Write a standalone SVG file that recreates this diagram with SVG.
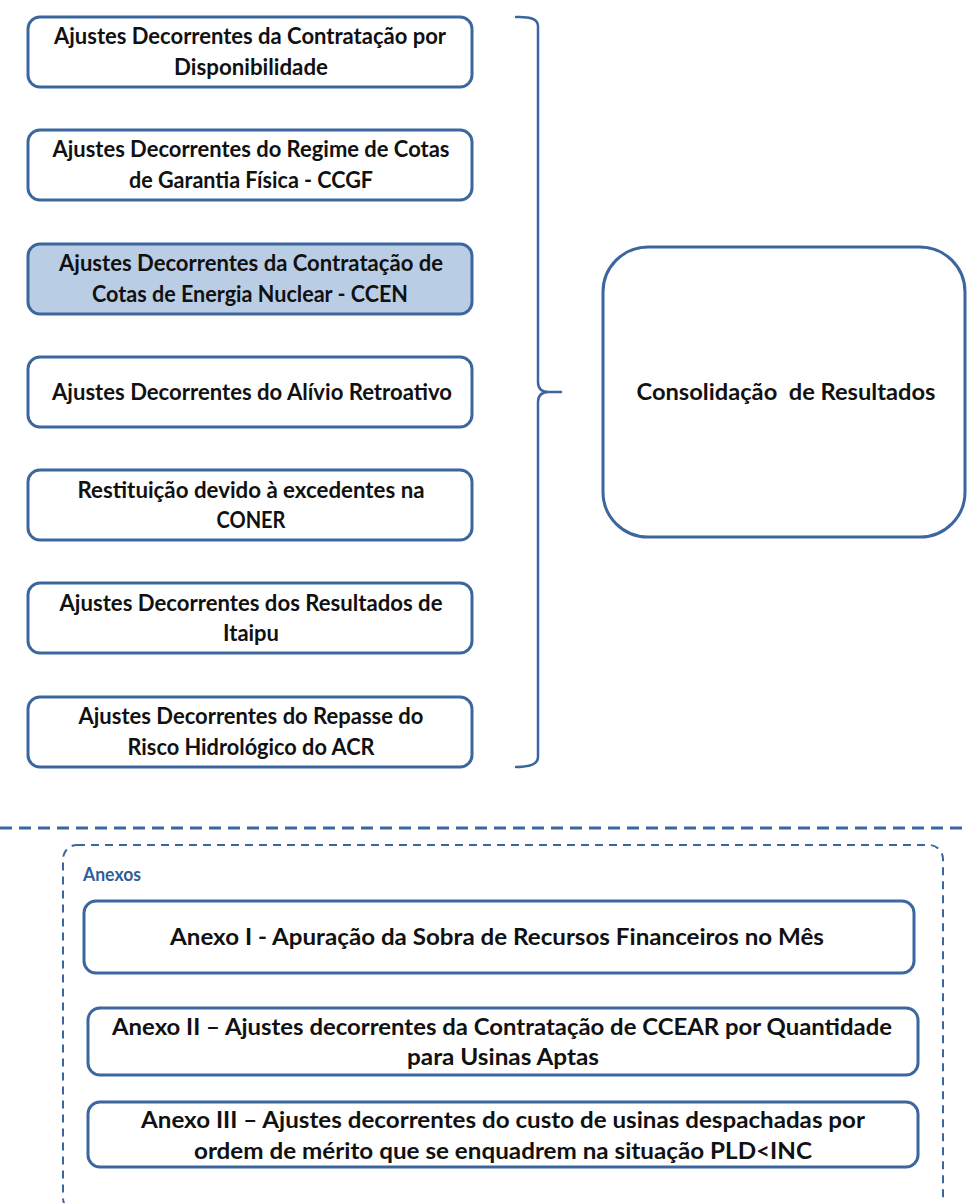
<svg xmlns="http://www.w3.org/2000/svg" width="968" height="1203" viewBox="0 0 968 1203">
<style>
.box{fill:#ffffff;stroke:#3C679E;stroke-width:3}
.hl{fill:#B9CDE5}
.t{font-family:Lato,"Liberation Sans",sans-serif;font-weight:bold;font-size:22px;fill:#111111;text-anchor:middle}
.a{font-family:Lato,"Liberation Sans",sans-serif;font-weight:bold;font-size:22px;fill:#111111;text-anchor:middle}
.conn{fill:none;stroke:#3C679E;stroke-width:2.5;stroke-linecap:round;stroke-linejoin:round}
</style>
<rect width="968" height="1203" fill="#ffffff"/>
<g id="n1"><rect class="box" x="28" y="17" width="444" height="70" rx="12"/>
<text class="t" x="250" y="44" textLength="392" lengthAdjust="spacingAndGlyphs">Ajustes Decorrentes da Contratação por</text>
<text class="t" x="251" y="75" textLength="154" lengthAdjust="spacingAndGlyphs">Disponibilidade</text></g>
<g id="n2"><rect class="box" x="28" y="130" width="444" height="70" rx="12"/>
<text class="t" x="251" y="157" textLength="397" lengthAdjust="spacingAndGlyphs">Ajustes Decorrentes do Regime de Cotas</text>
<text class="t" x="251" y="188" textLength="244" lengthAdjust="spacingAndGlyphs">de Garantia Física - CCGF</text></g>
<g id="n3"><rect class="box hl" x="28" y="244" width="444" height="70" rx="12"/>
<text class="t" x="251" y="271" textLength="384" lengthAdjust="spacingAndGlyphs">Ajustes Decorrentes da Contratação de</text>
<text class="t" x="250" y="302" textLength="316" lengthAdjust="spacingAndGlyphs">Cotas de Energia Nuclear - CCEN</text></g>
<g id="n4"><rect class="box" x="28" y="357" width="444" height="70" rx="12"/>
<text class="t" x="252" y="400" textLength="400" lengthAdjust="spacingAndGlyphs">Ajustes Decorrentes do Alívio Retroativo</text></g>
<g id="n5"><rect class="box" x="28" y="470" width="444" height="70" rx="12"/>
<text class="t" x="251" y="498" textLength="347" lengthAdjust="spacingAndGlyphs">Restituição devido à excedentes na</text>
<text class="t" x="251" y="528" textLength="69" lengthAdjust="spacingAndGlyphs">CONER</text></g>
<g id="n6"><rect class="box" x="28" y="583" width="444" height="70" rx="12"/>
<text class="t" x="251" y="611" textLength="383" lengthAdjust="spacingAndGlyphs">Ajustes Decorrentes dos Resultados de</text>
<text class="t" x="251" y="641" textLength="56" lengthAdjust="spacingAndGlyphs">Itaipu</text></g>
<g id="n7"><rect class="box" x="28" y="697" width="444" height="70" rx="12"/>
<text class="t" x="251" y="724" textLength="345" lengthAdjust="spacingAndGlyphs">Ajustes Decorrentes do Repasse do</text>
<text class="t" x="251" y="755" textLength="247" lengthAdjust="spacingAndGlyphs">Risco Hidrológico do ACR</text></g>
<g id="consolidacao"><rect class="box" x="603" y="247" width="362" height="290" rx="45"/>
<text class="t" x="786" y="400" font-size="23" textLength="299" lengthAdjust="spacingAndGlyphs" xml:space="preserve">Consolidação  de Resultados</text></g>
<g id="connectors">
<path class="conn" d="M516,17 Q538,16 538,26 L538,382 Q538,392 549,392 L561,392 M549,392 Q538,392 538,402 L538,757 Q538,767 516,767"/>
</g>
<g id="separator"><line x1="0" y1="828" x2="968" y2="828" stroke="#3C679E" stroke-width="3" stroke-dasharray="12 7"/></g>
<g id="anexos">
<rect x="63" y="845" width="880" height="367" rx="14" fill="none" stroke="#3C679E" stroke-width="2" stroke-dasharray="8 6"/>
<text x="83" y="881" font-family="Lato,'Liberation Sans',sans-serif" font-weight="bold" font-size="18" fill="#2E5E95" textLength="58" lengthAdjust="spacingAndGlyphs">Anexos</text>
</g>
<g id="anexo1"><rect class="box" x="84" y="901" width="830" height="72" rx="12"/>
<text class="a" x="497" y="945" textLength="654" lengthAdjust="spacingAndGlyphs">Anexo I - Apuração da Sobra de Recursos Financeiros no Mês</text></g>
<g id="anexo2"><rect class="box" x="88" y="1008" width="830" height="67" rx="12"/>
<text class="a" x="502" y="1035" textLength="780" lengthAdjust="spacingAndGlyphs">Anexo II – Ajustes decorrentes da Contratação de CCEAR por Quantidade</text>
<text class="a" x="503" y="1065" textLength="192" lengthAdjust="spacingAndGlyphs">para Usinas Aptas</text></g>
<g id="anexo3"><rect class="box" x="88" y="1102" width="830" height="65" rx="12"/>
<text class="a" x="503" y="1128" textLength="724" lengthAdjust="spacingAndGlyphs">Anexo III – Ajustes decorrentes do custo de usinas despachadas por</text>
<text class="a" x="503" y="1159" textLength="618" lengthAdjust="spacingAndGlyphs">ordem de mérito que se enquadrem na situação PLD&lt;INC</text></g>
</svg>
